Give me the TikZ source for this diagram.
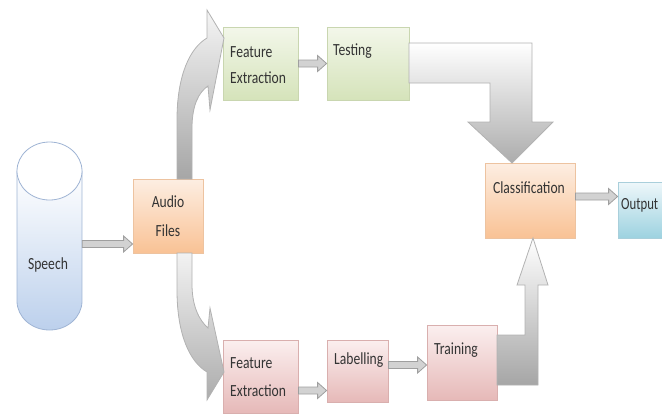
\documentclass[tikz,border=0pt]{standalone}
\usepackage{fontspec}
\usepackage{graphicx}
\setmainfont{Carlito}
\usetikzlibrary{fit,calc}
\newcommand\hsq[1]{\scalebox{0.8}[1]{#1}}
\definecolor{grnTop}{HTML}{F3F7EA}
\definecolor{grnBot}{HTML}{D5E3BA}
\definecolor{grnLine}{HTML}{C9D6B0}
\definecolor{pnkTop}{HTML}{FBEFEF}
\definecolor{pnkBot}{HTML}{E6B9B8}
\definecolor{pnkLine}{HTML}{D9AFAE}
\definecolor{orgTop}{HTML}{FDEEE2}
\definecolor{orgBot}{HTML}{F9C295}
\definecolor{orgLine}{HTML}{EDC3A0}
\definecolor{bluTop}{HTML}{EEF7FA}
\definecolor{bluBot}{HTML}{9DD2E0}
\definecolor{bluLine}{HTML}{A9CFDB}
\definecolor{cylTop}{HTML}{FFFFFF}
\definecolor{cylBot}{HTML}{BCD0EC}
\definecolor{cylLine}{HTML}{9FB4D4}
\tikzset{
  box/.style={inner sep=0pt, draw, line width=0.8pt},
  greenbox/.style={box, draw=grnLine, top color=grnTop, bottom color=grnBot},
  pinkbox/.style={box, draw=pnkLine, top color=pnkTop, bottom color=pnkBot},
  orangebox/.style={box, draw=orgLine, top color=orgTop, bottom color=orgBot},
  bluebox/.style={box, draw=bluLine, top color=bluTop, bottom color=bluBot},
  lbl/.style={inner sep=0pt, text=black!80, font=\fontsize{17pt}{19pt}\selectfont},
  smallarrow/.style={draw=gray!75, fill=gray!35, line width=0.8pt, line join=miter,
    to path={let \p1=(\tikztostart), \p2=(\tikztotarget) in
      (\x1,\y1+3.5) -- (\x2-9,\y1+3.5) -- (\x2-9,\y1+8) -- (\x2,\y1) -- (\x2-9,\y1-8)
      -- (\x2-9,\y1-3.5) -- (\x1,\y1-3.5) -- cycle}},
  bigarrow/.style={draw=gray!60, line width=0.8pt, line join=miter},
}
\begin{document}
\begin{tikzpicture}[x=1pt,y=-1pt]
\useasboundingbox (0,0) rectangle (662,416);
\clip (0,0) rectangle (662,416);

% Speech cylinder
\shade[top color=cylTop, bottom color=cylBot, draw=cylLine, line width=0.8pt]
  (17,171) -- (17,301) .. controls (17,317) and (31.5,330) .. (49.5,330)
  .. controls (67.5,330) and (82,317) .. (82,301) -- (82,171) -- cycle;
\filldraw[fill=white, draw=cylLine, line width=0.8pt] (49.5,171) ellipse [x radius=32.5, y radius=29];
\node[inner sep=0pt, fit={(17,142) (82,330)}] (speech) {};
\node[lbl] (speecht) at (48,265) {\hsq{Speech}};

% Boxes
\node[orangebox, fit={(133,179) (203,253)}] (audio) {};
\node[greenbox, fit={(223,27) (298,100)}] (fe1) {};
\node[greenbox, fit={(327,27) (409,100)}] (test) {};
\node[pinkbox, fit={(223,340) (298,413)}] (fe2) {};
\node[pinkbox, fit={(327,340) (388,402)}] (lab) {};
\node[pinkbox, fit={(427,325) (497,400)}] (train) {};
\node[orangebox, fit={(485,163) (575,238)}] (cls) {};
\node[bluebox, fit={(618,182) (690,238)}] (out) {};

% Labels
\node[lbl] (audiot1) at (168,202) {\hsq{Audio}};
\node[lbl] (audiot2) at (168,231) {\hsq{Files}};
\node[lbl, anchor=west] (fe1t1) at (230,52) {\hsq{Feature}};
\node[lbl, anchor=west] (fe1t2) at (230,78) {\hsq{Extraction}};
\node[lbl, anchor=west] (testt) at (333,51) {\hsq{Testing}};
\node[lbl, anchor=west] (fe2t1) at (230,363) {\hsq{Feature}};
\node[lbl, anchor=west] (fe2t2) at (230,391) {\hsq{Extraction}};
\node[lbl, anchor=west] (labt) at (334,360) {\hsq{Labelling}};
\node[lbl, anchor=west] (traint) at (434,350) {\hsq{Training}};
\node[lbl] (clst) at (529,188) {\hsq{Classification}};
\node[lbl, anchor=west] (outt) at (621,205) {\scalebox{0.75}[1]{Output}};

% Small block arrows
\path[smallarrow] ([yshift=-8pt]speech.east) to ([yshift=-12pt]audio.west);
\path[smallarrow] (fe1.east) to (test.west);
\path[smallarrow] ([yshift=-14pt]fe2.east) to ([yshift=-14pt]lab.west);
\path[smallarrow] ([yshift=6pt]lab.east) to ([yshift=6pt]train.west);
\path[smallarrow] ([yshift=4pt]cls.east) to ([yshift=4pt]out.west);

% Curved arrow: Audio Files -> upper Feature Extraction
\shade[bigarrow, top color=gray!8, bottom color=gray!70]
  (177,179) -- (177,120) .. controls (177,75) and (190,48) .. (207,38)
  -- (207,10) -- (224,38) -- (210,110) -- (208,86)
  .. controls (199,92) and (192,105) .. (192,128) -- (192,179) -- cycle;

% Curved arrow: Audio Files -> lower Feature Extraction
\shade[bigarrow, top color=gray!10, bottom color=gray!65]
  (177,253) -- (177,290) .. controls (177,335) and (190,362) .. (207,372)
  -- (207,400) -- (224,372) -- (210,308) -- (208,328)
  .. controls (199,320) and (192,306) .. (192,284) -- (192,253) -- cycle;

% Bent arrow: Testing -> Classification
\shade[bigarrow, top color=white, bottom color=gray!65]
  (409,43) -- (532,43) -- (532,122) -- (553,122) -- (512,163) -- (468,122)
  -- (490,122) -- (490,83) -- (409,83) -- cycle;

% Bent arrow: Training -> Classification
\shade[bigarrow, top color=white, bottom color=gray!70]
  (497,335) -- (525,335) -- (525,285) -- (517,285) -- (533,238) -- (548,285)
  -- (538,285) -- (538,385) -- (497,385) -- cycle;
\end{tikzpicture}
\end{document}
